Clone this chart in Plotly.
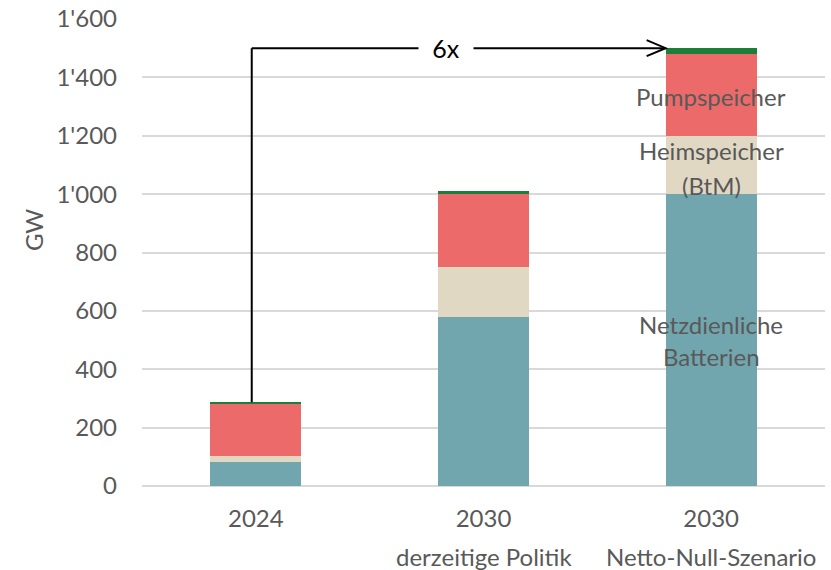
import plotly.graph_objects as go

# Installed storage capacity (GW) by scenario
categories = ["2024", "2030 derzeitige Politik", "2030 Netto-Null-Szenario"]
tick_years = ["2024", "2030", "2030"]
scenario_names = ["", "derzeitige Politik", "Netto-Null-Szenario"]

netz_batterien = [82, 580, 1000]
heimspeicher = [20, 172, 200]
pumpspeicher = [182, 250, 280]
andere = [3, 10, 20]

y_ticks = [0, 200, 400, 600, 800, 1000, 1200, 1400, 1600]

growth_label = "6x"

grey = "#595959"
font_family = "Lato, 'Open Sans', sans-serif"
fs = 24

series = [
    ("Netzdienliche Batterien", netz_batterien, "#72A6AF"),
    ("Heimspeicher (BtM)", heimspeicher, "#E1D8C4"),
    ("Pumpspeicher", pumpspeicher, "#EC6A69"),
    ("Andere", andere, "#1B7F3A"),
]

x_pos = list(range(len(categories)))

fig = go.Figure()
for name, vals, col in series:
    fig.add_trace(go.Bar(
        x=x_pos, y=vals, name=name, width=0.4,
        marker=dict(color=col, line=dict(width=0)),
        showlegend=False, hoverinfo="name+y",
    ))

totals = [sum(v) for v in zip(netz_batterien, heimspeicher, pumpspeicher, andere)]

# Growth arrow from the 2024 total to the net-zero total
x_start = -0.018
x_end = 2 - 0.2
arrow_line = dict(color="black", width=2)
fig.add_shape(type="line", xref="x", yref="y", x0=x_start, x1=x_start,
              y0=totals[0], y1=totals[2], line=arrow_line)
fig.add_shape(type="line", xref="x", yref="y", x0=x_start, x1=x_end,
              y0=totals[2], y1=totals[2], line=arrow_line)
fig.add_shape(type="path", xref="x", yref="y", xsizemode="pixel", ysizemode="pixel",
              xanchor=x_end, yanchor=totals[2],
              path="M -19,8 L 0,0 L -19,-8", line=arrow_line)
fig.add_annotation(x=0.835, y=totals[2], xref="x", yref="y", text=growth_label,
                   showarrow=False, bgcolor="white", width=52,
                   font=dict(size=25, color="black", family=font_family))

# Segment labels inside the net-zero bar
seg_labels = [
    ("Pumpspeicher", 1333),
    ("Heimspeicher", 1151),
    ("(BtM)", 1031),
    ("Netzdienliche", 552),
    ("Batterien", 442),
]
for txt, yv in seg_labels:
    fig.add_annotation(x=2, y=yv, xref="x", yref="y", text=txt, showarrow=False,
                       font=dict(size=fs, color=grey, family=font_family))

# Second line of the category labels
for i, sub in enumerate(scenario_names):
    if sub:
        fig.add_annotation(x=i, y=-0.150, xref="x", yref="paper", text=sub,
                           showarrow=False, yanchor="middle",
                           font=dict(size=fs, color=grey, family=font_family))

# Axis title
fig.add_annotation(x=-0.1596, y=0.548, xref="paper", yref="paper", text="GW",
                   textangle=-90, showarrow=False, xanchor="center", yanchor="middle",
                   font=dict(size=fs, color=grey, family=font_family))

fig.update_layout(
    width=831, height=570,
    margin=dict(l=142, r=6, t=19, b=84),
    barmode="stack", bargap=0.6,
    plot_bgcolor="white", paper_bgcolor="white",
    separators=".'",
    font=dict(family=font_family, size=fs, color=grey),
    xaxis=dict(
        range=[-0.5, 2.5], tickmode="array", tickvals=x_pos, ticktext=tick_years,
        showgrid=False, zeroline=False, showline=False, ticks="",
        ticklabelstandoff=16, automargin=False,
        tickfont=dict(size=fs, color=grey, family=font_family),
    ),
    yaxis=dict(
        range=[0, 1600], tickmode="array", tickvals=y_ticks, tickformat=",d",
        showgrid=True, gridcolor="#D9D9D9", gridwidth=2,
        zeroline=True, zerolinecolor="#D9D9D9", zerolinewidth=2,
        showline=False, ticks="", ticklabelstandoff=24, automargin=False,
        tickfont=dict(size=fs, color=grey, family=font_family),
    ),
)

fig.write_html("out.html")
